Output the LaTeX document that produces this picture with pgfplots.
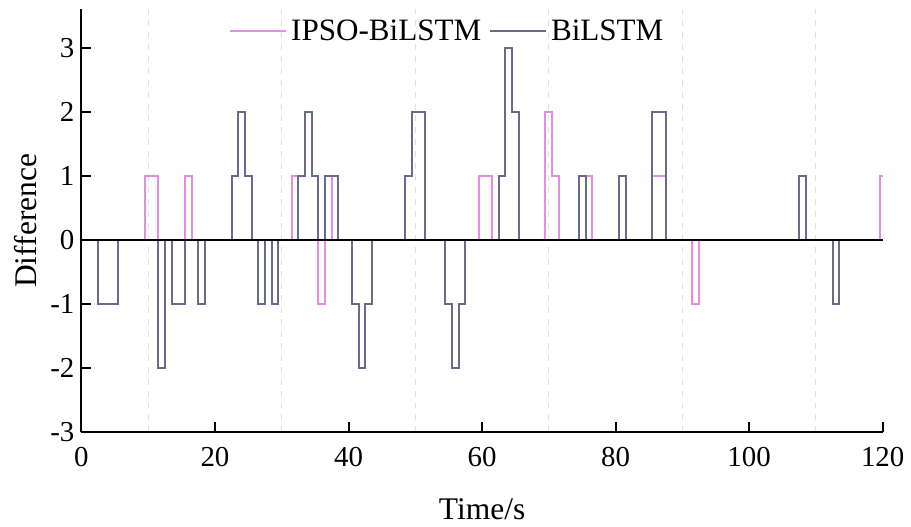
\documentclass[border=0pt]{standalone}
\usepackage{fontspec}
\setmainfont{Liberation Serif}
\usepackage{pgfplots}
\pgfplotsset{compat=1.18}
\definecolor{ipso}{HTML}{E58CE5}
\definecolor{bil}{HTML}{6A6A8A}
\begin{document}
\begin{tikzpicture}
\begin{axis}[
  name=ax,
  scale only axis,
  width=402pt, height=212.3pt,
  xmin=0, xmax=120, ymin=-3, ymax=3.6,
  axis lines*=left,
  axis line style={-, line width=1pt},
  tick align=inside,
  major tick length=5pt,
  tick style={line width=1pt, black},
  xtick={0,20,40,60,80,100,120},
  xticklabels={0,20,40,60,80,100,120},
  ytick={-3,-2,-1,0,1,2,3},
  yticklabels={-3,-2,-1,0,1,2,3},
  minor xtick={10,30,50,70,90,110},
  minor tick length=0pt,
  xminorgrids=true,
  minor grid style={dashed, gray!25, line width=0.5pt},
  ticklabel style={font=\fontsize{14.5}{17}\selectfont},
  xticklabel style={yshift=-4pt},
  xlabel={Time/s}, ylabel={Difference},
  label style={font=\fontsize{15.8}{18}\selectfont},
  xlabel style={yshift=-9pt},
  ylabel style={yshift=0pt},
  legend columns=2,
  legend style={at={(0.458,1)}, anchor=north, draw=none, fill=none,
    font=\fontsize{15.6}{18}\selectfont, yshift=-1pt,
    /tikz/every even column/.append style={column sep=2pt}},
  legend image code/.code={\draw[#1] (0pt,0pt) -- (28pt,0pt);},
  clip=false,
]
\addplot[const plot, color=ipso, line width=1pt] coordinates {
(0,0) (9.5,1) (11.5,0) (15.5,1) (16.5,0) (31.5,1) (32.5,0) (35.5,-1) (36.5,0)
(37.5,1) (38.5,0) (59.5,1) (61.5,0) (69.5,2) (70.5,1) (71.5,0) (75.5,1) (76.5,0)
(85.5,1) (87.5,0) (91.5,-1) (92.5,0) (119.6,1) (120,1)
};
\addlegendentry{IPSO-BiLSTM}
\addplot[const plot, color=bil, line width=1pt] coordinates {
(0,0) (2.5,-1) (5.5,0) (11.5,-2) (12.5,0) (13.5,-1) (15.5,0) (17.5,-1) (18.5,0)
(22.5,1) (23.5,2) (24.5,1) (25.5,0) (26.5,-1) (27.5,0) (28.5,-1) (29.5,0)
(32.5,1) (33.5,2) (34.5,1) (35.5,0) (36.5,1) (38.5,0) (40.5,-1) (41.5,-2)
(42.5,-1) (43.5,0) (48.5,1) (49.5,2) (51.5,0) (54.5,-1) (55.5,-2) (56.5,-1)
(57.5,0) (62.5,1) (63.5,3) (64.5,2) (65.5,0) (74.5,1) (75.5,0) (80.5,1) (81.5,0)
(85.5,2) (87.5,0) (107.5,1) (108.5,0) (112.5,-1) (113.5,0) (120,0)
};
\addlegendentry{BiLSTM}
\addplot[black, line width=1.2pt, forget plot] coordinates {(0,0) (120,0)};
\end{axis}
\path ([xshift=-40.85pt,yshift=-45pt]ax.south west) rectangle ([xshift=12.5pt,yshift=4.65pt]ax.north east);
\end{tikzpicture}
\end{document}
